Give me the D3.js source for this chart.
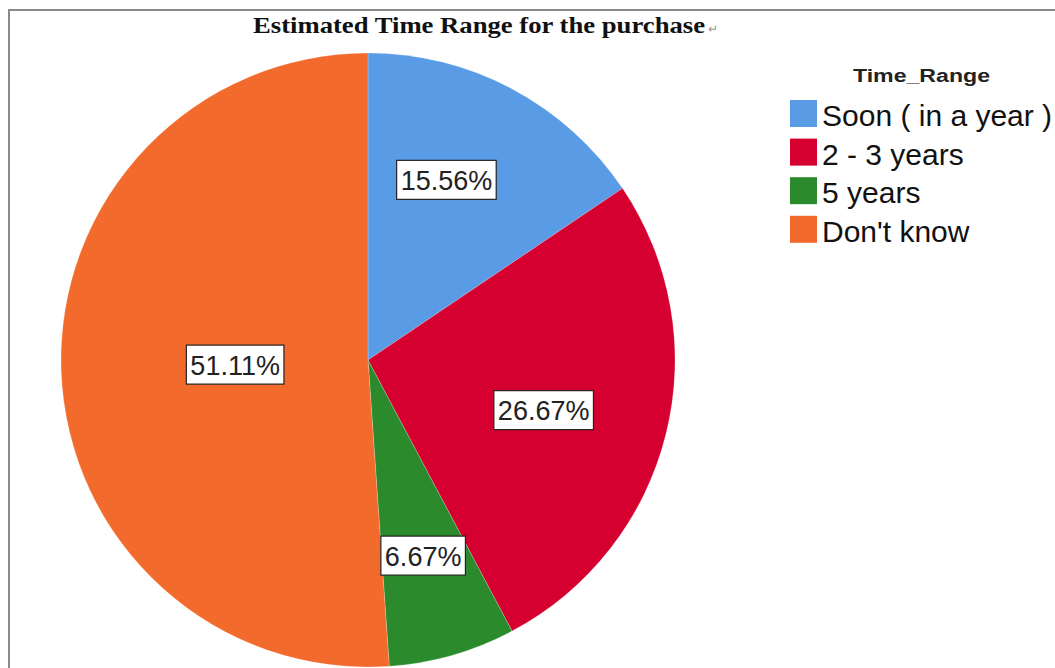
<!DOCTYPE html>
<html>
<head>
<meta charset="utf-8">
<script src="https://cdn.jsdelivr.net/npm/d3@7"></script>
<style>
body { margin: 0; background: #fff; }
svg { display: block; }
</style>
</head>
<body>
<div id="chart"></div>
<script>
// chart values
var categories = ['Soon ( in a year )', '2 - 3 years', '5 years', "Don't know"];
var percents = [15.56, 26.67, 6.67, 51.11];
var colors = ['#5a9be6', '#d5002f', '#2b8a2b', '#f26a2c'];
var legendTitle = 'Time_Range';
var chartTitle = 'Estimated Time Range for the purchase';

// where each label sits: [fraction along the slice angle, fraction of radius]
var labelPos = [[0.42, 0.64], [0.52, 0.595], [0.51, 0.662], [0.50, 0.433]];

var width = 1055, height = 668;
var cx = 368, cy = 360, radius = 307;

var svg = d3.select('#chart').append('svg')
	.attr('width', width)
	.attr('height', height);

// frame (only left + top visible)
svg.append('path')
	.attr('d', 'M9,668 L9,10 L1055,10')
	.attr('fill', 'none')
	.attr('stroke', '#8a8a8a')
	.attr('stroke-width', 2);

svg.append('text')
	.attr('x', 253)
	.attr('y', 33)
	.attr('font-family', 'Liberation Serif, Times New Roman, serif')
	.attr('font-weight', 'bold')
	.attr('font-size', 23)
	.attr('fill', '#111')
	.attr('textLength', 452)
	.attr('lengthAdjust', 'spacingAndGlyphs')
	.text(chartTitle);
svg.append('text')
	.attr('x', 708)
	.attr('y', 33)
	.attr('font-size', 12)
	.attr('fill', '#999')
	.text('\u21B5');

var pie = d3.pie().sort(null).value(function(d){ return d; });
var arcs = pie(percents);
var arc = d3.arc().innerRadius(0).outerRadius(radius);

var g = svg.append('g')
	.attr('transform', 'translate(' + [cx, cy] + ')');

g.selectAll('path.slice')
	.data(arcs)
	.enter().append('path')
	.attr('class', 'slice')
	.attr('d', arc)
	.attr('fill', function(d, i){ return colors[i]; })
	.attr('stroke', 'rgba(255,255,255,0.35)')
	.attr('stroke-width', 0.6);

var labels = g.selectAll('g.lbl')
	.data(arcs)
	.enter().append('g')
	.attr('class', 'lbl')
	.attr('transform', function(d, i){
		var a = d.startAngle + (d.endAngle - d.startAngle) * labelPos[i][0];
		var r = radius * labelPos[i][1];
		return 'translate(' + [r * Math.sin(a), -r * Math.cos(a)] + ')';
	});

labels.append('text')
	.attr('text-anchor', 'middle')
	.attr('y', 10)
	.attr('font-family', 'Liberation Sans, Arial, sans-serif')
	.attr('font-size', 27)
	.attr('fill', '#222')
	.text(function(d, i){ return percents[i].toFixed(2) + '%'; });

labels.each(function(){
	var t = d3.select(this).select('text');
	var b = t.node().getBBox();
	d3.select(this).insert('rect', 'text')
		.attr('x', b.x - 4)
		.attr('y', -19.5)
		.attr('width', b.width + 8)
		.attr('height', 39)
		.attr('fill', '#fff')
		.attr('stroke', '#222')
		.attr('stroke-width', 1.2);
});

// legend
var legend = svg.append('g')
	.attr('transform', 'translate(790,0)');

legend.append('text')
	.attr('x', 63)
	.attr('y', 82)
	.attr('font-family', 'Liberation Sans, Arial, sans-serif')
	.attr('font-weight', 'bold')
	.attr('font-size', 18)
	.attr('fill', '#222')
	.attr('textLength', 137)
	.attr('lengthAdjust', 'spacingAndGlyphs')
	.text(legendTitle);

var rows = legend.selectAll('g.row')
	.data(categories)
	.enter().append('g')
	.attr('class', 'row')
	.attr('transform', function(d, i){
		return 'translate(' + [0, 100 + i * 38.6] + ')';
	});

rows.append('rect')
	.attr('width', 27)
	.attr('height', 27)
	.attr('fill', function(d, i){ return colors[i]; });

rows.append('text')
	.attr('x', 32)
	.attr('y', 26)
	.attr('font-family', 'Liberation Sans, Arial, sans-serif')
	.attr('font-size', 30)
	.attr('fill', '#111')
	.text(function(d){ return d; });
</script>
</body>
</html>
